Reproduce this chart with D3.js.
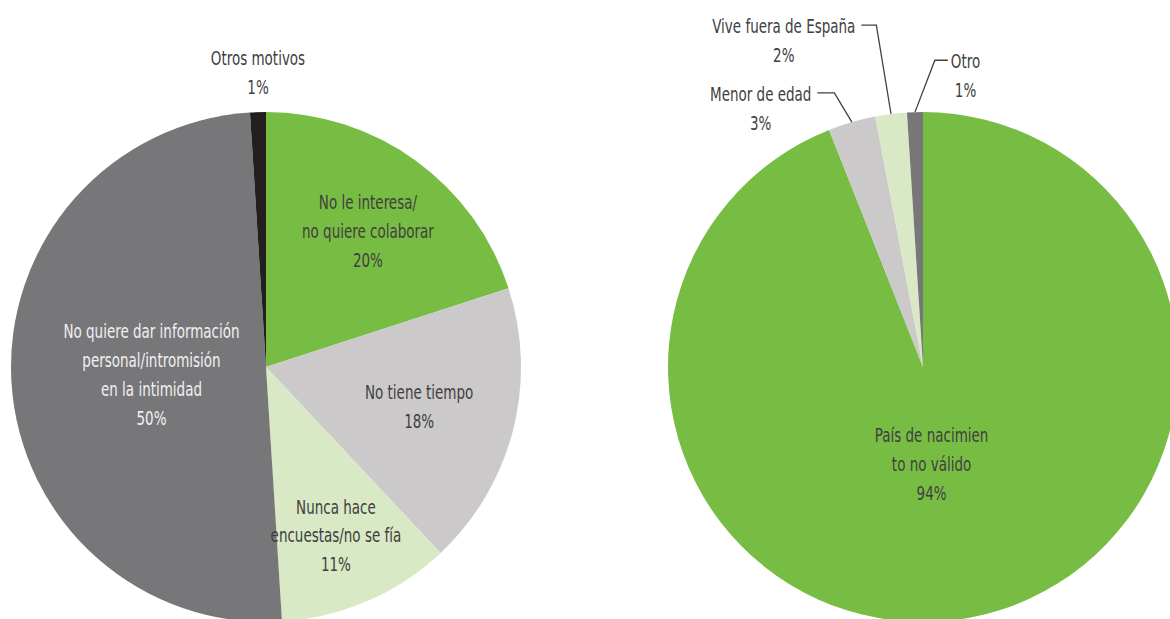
<!DOCTYPE html>
<html>
<head>
<meta charset="utf-8">
<script src="https://cdn.jsdelivr.net/npm/d3@7"></script>
<style>
  body { margin: 0; background: #fff; }
  svg text { font-family: "Liberation Sans Narrow", "DejaVu Sans Condensed", sans-serif; font-size: 20px; fill: #404040; }
</style>
</head>
<body>
<svg></svg>
<script>
'use strict';
// Left pie: reasons for refusing
var leftLabels = [
    ['No le interesa/', 'no quiere colaborar'],
    ['No tiene tiempo'],
    ['Nunca hace', 'encuestas/no se fía'],
    ['No quiere dar información', 'personal/intromisión', 'en la intimidad'],
    ['Otros motivos']
];
var leftValues = [20, 18, 11, 50, 1];
var leftColors = ['#78bd43', '#cbc9ca', '#d9e8c5', '#77777a', '#231f20'];

// Right pie: invalid cases
var rightLabels = [
    ['País de nacimien', 'to no válido'],
    ['Menor de edad'],
    ['Vive fuera de España'],
    ['Otro']
];
var rightValues = [94, 3, 2, 1];
var rightColors = ['#78bd43', '#cbc9ca', '#d9e8c5', '#77777a'];

var canvasWidth = 1170;
var canvasHeight = 619;
var radius = 255;
var lineH = 29;
var squeeze = 0.75; // condensed look

var svg = d3.select('svg')
    .attr('width', canvasWidth)
    .attr('height', canvasHeight);

var pie = d3.pie().sort(null).value(function (d) { return d; });
var arc = d3.arc().innerRadius(0).outerRadius(radius);

// label placement per slice
var leftLayout = [
    { r: 0.66, dx: 3 },
    { r: 0.62 },
    { r: 0.72, dx: -3 },
    { r: 0.45, white: true },
    { top: true, y: 58 }
];
var rightLayout = [
    { r: 0.38, da: 0.1 },
    { leader: true, elbowR: 288, dir: -1, len: 17, da: -0.03 },
    { leader: true, elbowR: 345, dir: -1, len: 15, da: -0.01 },
    { leader: true, elbowR: 307, dir: 1, len: 13, da: 0.07 }
];

function multiLine(g, lines, x, y) {
    var holder = g.append('g')
        .attr('transform', 'translate(' + x + ',' + y + ') scale(' + squeeze + ',1)');
    var t = holder.append('text')
        .attr('text-anchor', 'middle');
    lines.forEach(function (l, i) {
        t.append('tspan')
            .attr('x', 0)
            .attr('dy', i === 0 ? '0.35em' : lineH)
            .text(l);
    });
    return { g: holder, text: t };
}

function drawPie(cx, cy, values, labels, colors, layout) {
    var g = svg.append('g')
        .attr('transform', 'translate(' + cx + ',' + cy + ')');
    var arcs = pie(values);

    g.selectAll('path.slice')
        .data(arcs)
        .enter()
        .append('path')
        .attr('class', 'slice')
        .attr('d', arc)
        .attr('fill', function (d, i) { return colors[i]; });

    arcs.forEach(function (d, i) {
        var lay = layout[i];
        var lines = labels[i].concat([values[i] + '%']);
        var mid = (d.startAngle + d.endAngle) / 2;
        if (lay.top) {
            // label straight above the slice, no line
            multiLine(g, lines, Math.sin(mid) * radius, lay.y - cy);
            return;
        }
        if (lay.leader) {
            var p0 = [Math.sin(mid) * radius, -Math.cos(mid) * radius];
            var a2 = mid + (lay.da || 0);
            var p1 = [Math.sin(a2) * lay.elbowR, -Math.cos(a2) * lay.elbowR];
            var p2 = [p1[0] + lay.dir * lay.len, p1[1]];
            g.append('path')
                .attr('d', d3.line()([p0, p1, p2]))
                .attr('fill', 'none')
                .attr('stroke', '#404040')
                .attr('stroke-width', 1.3);
            var m = multiLine(g, lines, 0, p1[1] + 1);
            var first = m.text.select('tspan').node().getComputedTextLength() * squeeze;
            var cxText = lay.dir < 0 ? p2[0] - 6 - first / 2 : p2[0] + 3 + first / 2;
            m.g.attr('transform', 'translate(' + cxText + ',' + (p1[1] + 1) + ') scale(' + squeeze + ',1)');
            return;
        }
        var ang = mid + (lay.da || 0);
        var rr = radius * lay.r;
        var lx = Math.sin(ang) * rr + (lay.dx || 0);
        var ly = -Math.cos(ang) * rr - (lines.length - 1) * lineH / 2;
        var m3 = multiLine(g, lines, lx, ly);
        if (lay.white) m3.text.style('fill', '#f0f0f0');
    });
}

drawPie(266, 367, leftValues, leftLabels, leftColors, leftLayout);
drawPie(923, 367, rightValues, rightLabels, rightColors, rightLayout);
</script>
</body>
</html>
